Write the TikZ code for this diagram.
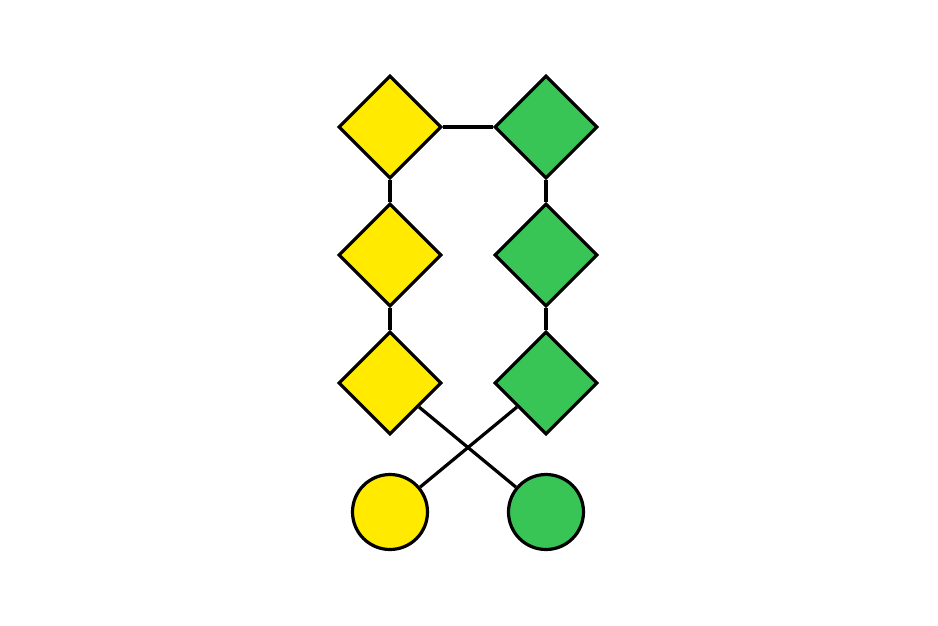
\documentclass[tikz,border=0pt]{standalone}
\usetikzlibrary{shapes.geometric}
\definecolor{yel}{HTML}{FFEA00}
\definecolor{grn}{HTML}{38C555}
\tikzset{
  dia/.style={diamond, draw=black, line width=3.2pt, minimum width=103pt, minimum height=103pt, inner sep=0pt, aspect=1},
  circ/.style={circle, draw=black, line width=3.2pt, minimum size=75pt, inner sep=0pt},
  link/.style={draw=black, line width=3.2pt}
}
\begin{document}
\begin{tikzpicture}[x=1pt,y=-1pt]
\useasboundingbox (0,0) rectangle (938,625);
\node[dia, fill=yel] (y1) at (390,127) {};
\node[dia, fill=yel] (y2) at (390,255) {};
\node[dia, fill=yel] (y3) at (390,383) {};
\node[dia, fill=grn] (g1) at (546,127) {};
\node[dia, fill=grn] (g2) at (546,255) {};
\node[dia, fill=grn] (g3) at (546,383) {};
\node[circ, fill=yel] (yc) at (390,512) {};
\node[circ, fill=grn] (gc) at (546,512) {};
\draw[link] (y1) -- (g1);
\draw[link] (y1) -- (y2);
\draw[link] (y2) -- (y3);
\draw[link] (g1) -- (g2);
\draw[link] (g2) -- (g3);
\draw[link] (y3) -- (gc);
\draw[link] (g3) -- (yc);
\end{tikzpicture}
\end{document}
